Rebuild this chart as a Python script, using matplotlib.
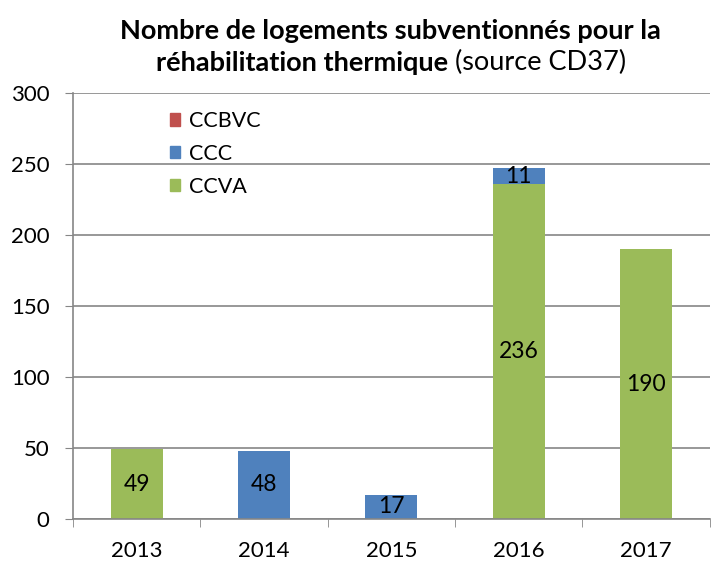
import matplotlib
matplotlib.use("Agg")
import matplotlib.pyplot as plt
from matplotlib.patches import Patch
import numpy as np

years = ["2013", "2014", "2015", "2016", "2017"]
ccva = [49, 0, 0, 236, 190]
ccc = [0, 48, 17, 11, 0]
ccbvc = [0, 0, 0, 0, 0]

col_ccva = "#9BBB59"
col_ccc = "#4F81BD"
col_ccbvc = "#C0504D"

plt.rcParams['font.family'] = ['Lato', 'DejaVu Sans']

fig = plt.figure(figsize=(7.17, 5.62), dpi=100)
ax = fig.add_axes([0.1018, 0.0765, 0.888, 0.758])

x = np.arange(len(years))
w = 0.41
b1 = ax.bar(x, ccva, w, color=col_ccva, zorder=3)
b2 = ax.bar(x, ccc, w, bottom=ccva, color=col_ccc, zorder=3)
bottom3 = np.array(ccva) + np.array(ccc)
b3 = ax.bar(x, ccbvc, w, bottom=bottom3, color=col_ccbvc, zorder=3)

for bars, vals, bots in [(b1, ccva, np.zeros(5)), (b2, ccc, np.array(ccva))]:
    for r, v, bt in zip(bars, vals, bots):
        if v > 0:
            ax.text(r.get_x() + r.get_width() / 2, bt + v / 2, str(v),
                    ha="center", va="center", fontsize=16.5, color="black", zorder=4)

ax.set_xlim(-0.5, len(years) - 0.5)
ax.set_ylim(0, 300)
ax.set_yticks(range(0, 301, 50))
ax.tick_params(axis="y", labelsize=16, length=6, color="#868686", pad=11)
ax.set_xticks(x)
ax.set_xticklabels(years, fontsize=16)
ax.set_xticks(np.arange(-0.5, len(years), 1), minor=True)
ax.tick_params(axis="x", which="major", length=0, pad=16)
ax.tick_params(axis="x", which="minor", length=6, color="#868686")
ax.yaxis.grid(True, color="#868686", linewidth=1.2, zorder=0)
for s in ["top", "right"]:
    ax.spines[s].set_visible(False)
for s in ["left", "bottom"]:
    ax.spines[s].set_color("#868686")
    ax.spines[s].set_linewidth(1.2)
ax.spines["bottom"].set_zorder(5)

handles = [Patch(color=col_ccbvc, label="CCBVC"),
           Patch(color=col_ccc, label="CCC"),
           Patch(color=col_ccva, label="CCVA")]
ax.legend(handles=handles, loc="upper left", bbox_to_anchor=(0.128, 0.993),
          frameon=False, fontsize=15.5, handlelength=0.5, handleheight=0.5,
          handletextpad=0.4, labelspacing=0.6, borderpad=0.2)

# Title
fig.text(0.545, 0.945, "Nombre de logements subventionnés pour la",
         ha="center", va="center", fontsize=19.5, fontweight="bold")
fig.canvas.draw()
r = fig.canvas.get_renderer()
t1 = fig.text(0, 0.888, "réhabilitation thermique", ha="left", va="center",
              fontsize=19.5, fontweight="bold")
t2 = fig.text(0, 0.888, " (source CD37)", ha="left", va="center", fontsize=19.5)
w1 = t1.get_window_extent(r).width / fig.bbox.width
w2 = t2.get_window_extent(r).width / fig.bbox.width
start = 0.545 - (w1 + w2) / 2
t1.set_x(start)
t2.set_x(start + w1)

fig.savefig("out.png", dpi=100)
